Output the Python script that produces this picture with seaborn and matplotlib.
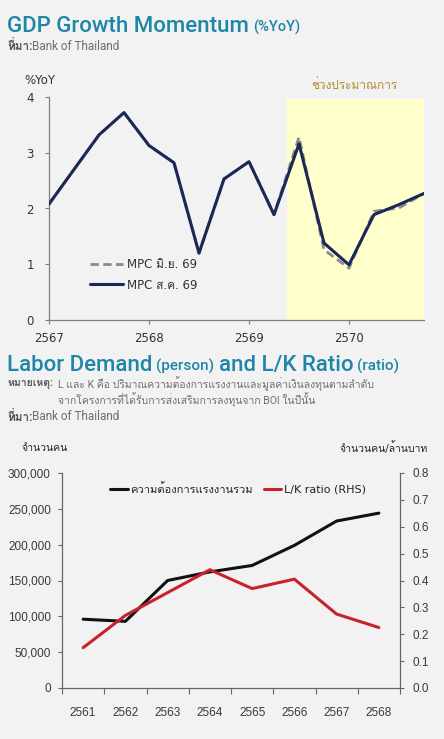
import numpy as np
import pandas as pd
import seaborn as sns
import matplotlib.pyplot as plt
from matplotlib import font_manager
from matplotlib.ticker import FuncFormatter
from fontTools.ttLib import TTFont

# GDP growth momentum (%YoY), quarterly
gdp_quarters = [2567.00, 2567.25, 2567.50, 2567.75, 2568.00, 2568.25, 2568.50, 2568.75,
                2569.00, 2569.25, 2569.50, 2569.75, 2570.00, 2570.25, 2570.50, 2570.75]
gdp_mpc_aug = [2.08, 2.70, 3.32, 3.72, 3.13, 2.82, 1.20, 2.53,
               2.84, 1.89, 3.16, 1.38, 0.99, 1.89, 2.07, 2.27]
gdp_mpc_jun = [2.08, 2.70, 3.32, 3.72, 3.13, 2.82, 1.20, 2.53,
               2.84, 1.89, 3.28, 1.26, 0.93, 1.95, 2.01, 2.27]
gdp_year_ticks = [2567, 2568, 2569, 2570]
forecast_start = 2569.375

# labor demand (persons) and L/K ratio
labor_years = ['2561', '2562', '2563', '2564', '2565', '2566', '2567', '2568']
labor_demand = [96000, 93000, 150000, 162000, 171000, 199000, 233000, 244000]
lk_ratio = [0.15, 0.27, 0.355, 0.44, 0.37, 0.405, 0.275, 0.225]


def thai_family():
    # first installed font that carries Thai glyphs
    for f in font_manager.fontManager.ttflist:
        try:
            cmap = TTFont(f.fname, fontNumber=0, lazy=True).getBestCmap()
        except Exception:
            continue
        if cmap and 0x0E01 in cmap:
            return f.name
    return 'DejaVu Sans'


sns.set_style("ticks")
THAI = thai_family()
plt.rcParams['font.family'] = ['DejaVu Sans', THAI]

tick_fp = font_manager.FontProperties(family='Liberation Sans', size=8.5)

BG = '#F2F2F2'
TEAL = '#1E86A8'
GREY = '#6E6E6E'
NAVY = '#1B2757'

W, H = 444, 739
fig = plt.figure(figsize=(W / 100, H / 100), dpi=100, facecolor=BG)


def fx(px):
    return px / W


def fy(py):
    return 1 - py / H


title_font = ['Roboto', THAI]
renderer = fig.canvas.get_renderer()


def title_line(x, y, parts):
    # parts: list of (text, size)
    for text, size in parts:
        t = fig.text(fx(x), fy(y), text, fontsize=size, color=TEAL, weight='medium',
                     family=title_font, va='baseline', ha='left')
        bb = t.get_window_extent(renderer)
        x += bb.width + 4


def source_line(y, size=8.5):
    fig.text(fx(7), fy(y), 'ที่มา:', fontsize=size, color='#555555', weight='bold',
             family=title_font, va='center')
    fig.text(fx(32), fy(y), 'Bank of Thailand', fontsize=size, color=GREY,
             family=title_font, va='center')


title_line(7, 32, [('GDP Growth Momentum', 16), ('(%YoY)', 10.5)])
source_line(46)

# ---------------- top chart ----------------
ax1 = fig.add_axes([fx(49), fy(320), fx(424) - fx(49), fy(97) - fy(320)])
ax1.set_facecolor(BG)
ax1.axvspan(forecast_start, 2570.75, ymin=0, ymax=0.99, color='#FFFFCC', lw=0, zorder=0)

gdp = pd.DataFrame({'quarter': gdp_quarters, 'jun': gdp_mpc_jun, 'aug': gdp_mpc_aug})
sns.lineplot(data=gdp, x='quarter', y='jun', ax=ax1, color='#8A8A8A', lw=2.0,
             linestyle=(0, (3, 1.6)), label='MPC มิ.ย. 69', zorder=2)
sns.lineplot(data=gdp, x='quarter', y='aug', ax=ax1, color=NAVY, lw=2.2,
             label='MPC ส.ค. 69', zorder=3)

ax1.set_xlim(2567, 2570.75)
ax1.set_ylim(0, 4)
ax1.set_xticks(gdp_year_ticks)
ax1.set_yticks([0, 1, 2, 3, 4])
ax1.set_xlabel('')
ax1.set_ylabel('')
for s in ['top', 'right']:
    ax1.spines[s].set_visible(False)
for s in ['left', 'bottom']:
    ax1.spines[s].set_color('#7F7F7F')
    ax1.spines[s].set_linewidth(0.9)
ax1.tick_params(axis='both', length=3, width=0.8, color='#7F7F7F',
                labelsize=8.5, labelcolor='#333333')
ax1.tick_params(axis='y', pad=8)
ax1.tick_params(axis='x', pad=6)
leg = ax1.legend(loc='lower left', bbox_to_anchor=(0.08, 0.08), frameon=False,
                 fontsize=8.5, handlelength=2.8, labelspacing=0.6, handletextpad=0.4)
for t in leg.get_texts():
    t.set_color('#333333')
ax1.text(2570.05, 4.2, 'ช่วงประมาณการ', fontsize=8.5, color='#B08A2E',
         ha='center', va='center')
fig.text(fx(24), fy(80), '%YoY', fontsize=8.5, color='#333333', va='center')

# ---------------- bottom chart ----------------
title_line(7, 371, [('Labor Demand', 16), ('(person)', 11),
                    ('and L/K Ratio', 16), ('(ratio)', 11)])
note_size = 7.5
fig.text(fx(7), fy(384), 'หมายเหตุ:', fontsize=note_size, color='#555555', weight='bold',
         family=title_font, va='center')
fig.text(fx(58), fy(384), 'L และ K คือ ปริมาณความต้องการแรงงานและมูลค่าเงินลงทุนตามลำดับ',
         fontsize=note_size, color=GREY, family=title_font, va='center')
fig.text(fx(58), fy(400), 'จากโครงการที่ได้รับการส่งเสริมการลงทุนจาก BOI ในปีนั้น',
         fontsize=note_size, color=GREY, family=title_font, va='center')
source_line(417)

ax2 = fig.add_axes([fx(62), fy(688), fx(400) - fx(62), fy(473) - fy(688)])
ax2.set_facecolor(BG)
axr = ax2.twinx()

labor = pd.DataFrame({'year': labor_years, 'demand': labor_demand, 'lk': lk_ratio})
labor['pos'] = np.arange(len(labor))
sns.lineplot(data=labor, x='pos', y='demand', ax=ax2, color='#111111', lw=2.2,
             label='ความต้องการแรงงานรวม', legend=False)
sns.lineplot(data=labor, x='pos', y='lk', ax=axr, color='#C8232C', lw=2.2,
             label='L/K ratio (RHS)', legend=False)

ax2.set_xlim(-0.5, len(labor) - 0.5)
ax2.set_ylim(0, 300000)
axr.set_ylim(0, 0.8)
ax2.set_yticks(np.arange(0, 300001, 50000))
axr.set_yticks(np.arange(0, 0.81, 0.1))
ax2.yaxis.set_major_formatter(FuncFormatter(lambda v, p: f'{v:,.0f}'))
axr.yaxis.set_major_formatter(FuncFormatter(lambda v, p: f'{v:.1f}'))
ax2.set_xticks(labor['pos'])
ax2.set_xticklabels(labor['year'])
ax2.set_xticks(np.arange(-0.5, len(labor), 1), minor=True)
ax2.set_xlabel('')
ax2.set_ylabel('')
axr.set_ylabel('')
ax2.tick_params(axis='x', which='major', length=0, pad=14)
ax2.tick_params(axis='x', which='minor', length=4, width=0.8, color='#666666')
ax2.tick_params(axis='y', length=3, width=0.8, color='#666666', pad=5)
axr.tick_params(axis='y', length=3, width=0.8, color='#666666', pad=6)
for a in (ax2, axr):
    a.spines['top'].set_visible(False)
    for s in ['left', 'right', 'bottom']:
        a.spines[s].set_color('#666666')
        a.spines[s].set_linewidth(0.9)
ax2.spines['right'].set_visible(False)
axr.spines['left'].set_visible(False)
axr.spines['bottom'].set_visible(False)
for lab in ax2.get_xticklabels() + ax2.get_yticklabels() + axr.get_yticklabels():
    lab.set_fontproperties(tick_fp)
    lab.set_color('#3A3A3A')

handles = ax2.get_lines()[:1] + axr.get_lines()[:1]
lg = axr.legend(handles, [h.get_label() for h in handles], loc='upper center',
                bbox_to_anchor=(0.52, 1.0), ncol=2, frameon=False, fontsize=8,
                handlelength=1.6, handletextpad=0.2, columnspacing=1.0)
for t in lg.get_texts():
    t.set_color('#222222')

fig.text(fx(22), fy(448), 'จำนวนคน', fontsize=7.5, color='#222222', va='center')
fig.text(fx(428), fy(448), 'จำนวนคน/ล้านบาท', fontsize=7.5, color='#222222',
         va='center', ha='right')

fig.savefig('out.png', dpi=100, facecolor=BG)
